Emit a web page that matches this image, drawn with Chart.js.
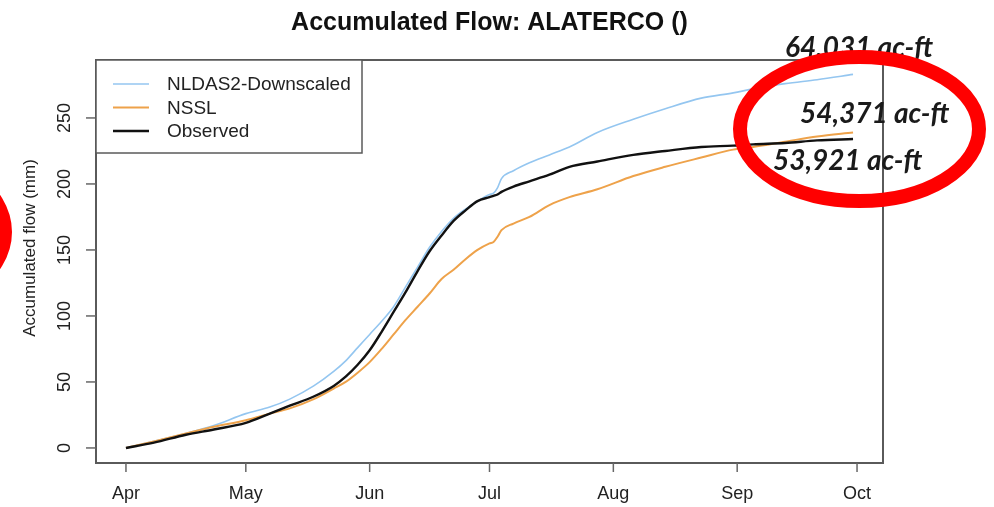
<!DOCTYPE html>
<html>
<head>
<meta charset="utf-8">
<script src="https://cdn.jsdelivr.net/npm/chart.js@4.4.1/dist/chart.umd.min.js"></script>
<style>
	html, body { margin: 0; padding: 0; background: #ffffff; }
	#wrap { width: 994px; height: 507px; position: relative; }
</style>
</head>
<body>
<div id="wrap"><canvas id="flowChart" width="994" height="507"></canvas></div>
<script>
// days since Apr 1 for every sample
const days = [0, 7, 15, 22, 30, 36, 41, 47, 52, 55, 58, 61, 64, 67, 70, 73, 76, 79, 82, 85, 88, 91, 92, 93, 94, 97, 101, 106, 111, 118, 127, 135, 144, 152, 157, 165, 173, 182];

// accumulated flow (mm)
const nldas2 = [0, 5, 11, 17, 26, 31, 37, 47, 58, 66, 76, 86, 96, 107, 122, 137, 152, 164, 174, 181, 187, 192, 193, 197, 204, 210, 216, 222, 228, 239, 249, 257, 265, 269, 272, 276, 279, 283];
const nssl = [0, 5, 11, 16, 21, 26, 30, 37, 45, 50, 57, 65, 75, 86, 97, 107, 117, 128, 135, 143, 150, 155, 156, 160, 165, 170, 175, 184, 190, 196, 206, 213, 220, 226, 228, 232, 236, 239];
const observed = [0, 4, 10, 14, 19, 26, 32, 39, 47, 54, 63, 74, 88, 103, 118, 134, 149, 161, 172, 180, 187, 190, 191, 192, 194, 198, 202, 207, 213, 217, 222, 225, 228, 229, 230, 231, 233, 234];

const seriesNames = ["NLDAS2-Downscaled", "NSSL", "Observed"];
const monthTicks = [0, 30, 61, 91, 122, 153, 183];
const monthLabels = ["Apr", "May", "Jun", "Jul", "Aug", "Sep", "Oct"];
const yTicks = [0, 50, 100, 150, 200, 250];
const volumeLabels = ["64,031 ac-ft", "54,371 ac-ft", "53,921 ac-ft"];

const toXY = (vals) => vals.map((v, i) => ({ x: days[i], y: v }));

const axisFont = "'Liberation Sans', Arial, sans-serif";

// R-like base graphics: box, ticks, rotated y labels, legend, notes
const rStyle = {
	id: "rStyle",
	afterDraw(chart) {
		const ctx = chart.ctx;
		const area = chart.chartArea;
		const xs = chart.scales.x;
		const ys = chart.scales.y;
		ctx.save();

		// plot box
		ctx.strokeStyle = "#5a5a5a";
		ctx.lineWidth = 2;
		ctx.strokeRect(area.left, area.top, area.right - area.left, area.bottom - area.top);

		// x ticks
		ctx.lineWidth = 1.5;
		ctx.strokeStyle = "#666";
		ctx.fillStyle = "#222";
		ctx.font = "18px " + axisFont;
		ctx.textAlign = "center";
		ctx.textBaseline = "alphabetic";
		monthTicks.forEach((d, i) => {
			const px = xs.getPixelForValue(d);
			ctx.beginPath();
			ctx.moveTo(px, area.bottom);
			ctx.lineTo(px, area.bottom + 9);
			ctx.stroke();
			ctx.fillText(monthLabels[i], px, 499);
		});

		// y ticks, labels rotated like R
		yTicks.forEach((v) => {
			const py = ys.getPixelForValue(v);
			ctx.beginPath();
			ctx.moveTo(area.left, py);
			ctx.lineTo(area.left - 10, py);
			ctx.stroke();
			ctx.save();
			ctx.translate(65, py);
			ctx.rotate(-Math.PI / 2);
			ctx.textBaseline = "middle";
			ctx.fillText(String(v), 0, 0);
			ctx.restore();
		});

		// y axis title
		ctx.save();
		ctx.font = "17px " + axisFont;
		ctx.translate(30, 248);
		ctx.rotate(-Math.PI / 2);
		ctx.textBaseline = "middle";
		ctx.fillText("Accumulated flow (mm)", 0, 0);
		ctx.restore();

		// legend box in top-left corner
		ctx.fillStyle = "#fff";
		ctx.fillRect(area.left, area.top, 266, 93);
		ctx.strokeStyle = "#5a5a5a";
		ctx.lineWidth = 1.5;
		ctx.strokeRect(area.left, area.top, 266, 93);
		ctx.font = "19px " + axisFont;
		ctx.textAlign = "left";
		ctx.textBaseline = "middle";
		chart.data.datasets.forEach((ds, i) => {
			const ry = 84 + i * 23.5;
			ctx.strokeStyle = ds.borderColor;
			ctx.lineWidth = ds.borderWidth;
			ctx.beginPath();
			ctx.moveTo(113, ry);
			ctx.lineTo(149, ry);
			ctx.stroke();
			ctx.fillStyle = "#222";
			ctx.fillText(ds.label, 167, ry + 1);
		});

		// volume notes
		ctx.fillStyle = "#1a1a1a";
		ctx.font = "italic bold 28px Lato, 'Open Sans', sans-serif";
		ctx.textAlign = "left";
		ctx.textBaseline = "alphabetic";
		ctx.fillText(volumeLabels[0], 785, 57);
		ctx.fillText(volumeLabels[1], 800, 123);
		ctx.fillText(volumeLabels[2], 773, 170);

		// red highlight ellipses
		ctx.strokeStyle = "#ff0000";
		ctx.lineWidth = 14;
		ctx.beginPath();
		ctx.ellipse(859.5, 129, 119.5, 72, 0, 0, Math.PI * 2);
		ctx.stroke();
		ctx.beginPath();
		ctx.ellipse(-120, 232, 125, 82, 0, 0, Math.PI * 2);
		ctx.stroke();

		ctx.restore();
	},
};

const ctx = document.getElementById("flowChart").getContext("2d");

new Chart(ctx, {
	type: "line",
	data: {
		datasets: [
			{ label: seriesNames[0], data: toXY(nldas2), borderColor: "#94c6f0", borderWidth: 1.6, order: 2 },
			{ label: seriesNames[1], data: toXY(nssl), borderColor: "#eea24a", borderWidth: 2, order: 1 },
			{ label: seriesNames[2], data: toXY(observed), borderColor: "#111111", borderWidth: 2.4, order: 0 },
		],
	},
	options: {
		responsive: false,
		animation: false,
		events: [],
		layout: { padding: { left: 96, right: 111, top: 0, bottom: 44 } },
		elements: {
			point: { radius: 0 },
			line: { cubicInterpolationMode: "monotone", fill: false },
		},
		scales: {
			x: { type: "linear", min: -7.5, max: 189.5, display: false },
			y: { type: "linear", min: -11.4, max: 293.9, display: false },
		},
		plugins: {
			legend: { display: false },
			tooltip: { enabled: false },
			title: {
				display: true,
				text: "Accumulated Flow: ALATERCO ()",
				color: "#111",
				font: { family: axisFont, size: 25, weight: "bold", lineHeight: 1.2 },
				padding: { top: 8, bottom: 22 },
			},
		},
	},
	plugins: [rStyle],
});
</script>
</body>
</html>
